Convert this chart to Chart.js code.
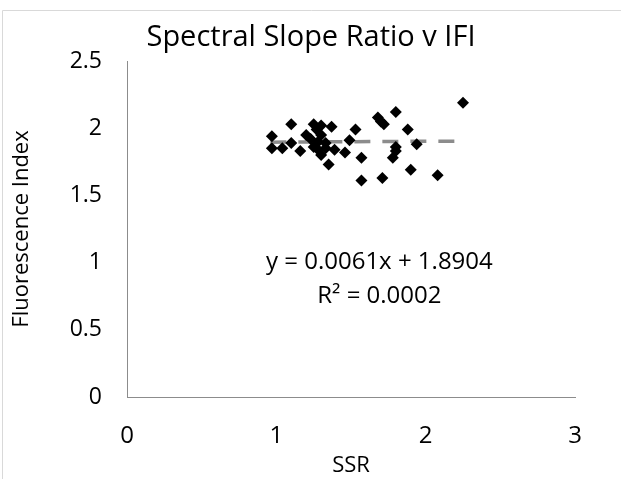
<!DOCTYPE html>
<html>
<head>
<meta charset="utf-8">
<script src="https://cdn.jsdelivr.net/npm/chart.js@4.4.1/dist/chart.umd.min.js"></script>
<style>
  html, body { margin: 0; padding: 0; background: #fff; }
  #wrap { width: 621px; height: 479px; position: relative; }
</style>
</head>
<body>
<div id="wrap"><canvas id="chart" width="621" height="479"></canvas></div>
<script>
// SSR (x) vs Fluorescence Index (y)
const ssr = [1.10, 0.97, 1.25, 1.30, 1.37, 1.27, 1.20, 1.30, 1.53, 1.49,
             1.10, 0.97, 1.04, 1.16, 1.25, 1.28, 1.30, 1.39, 1.46, 1.35,
             1.33, 1.28, 1.23, 1.33, 2.25, 1.80, 1.68, 1.70, 1.72, 1.88,
             1.94, 1.80, 1.80, 1.57, 1.78, 1.90, 2.08, 1.57, 1.71];
const fi  = [2.03, 1.94, 2.03, 2.02, 2.01, 1.99, 1.95, 1.95, 1.99, 1.91,
             1.89, 1.85, 1.85, 1.83, 1.86, 1.84, 1.80, 1.84, 1.82, 1.73,
             1.89, 1.90, 1.92, 1.85, 2.19, 2.12, 2.08, 2.05, 2.03, 1.99,
             1.88, 1.86, 1.83, 1.78, 1.78, 1.69, 1.65, 1.61, 1.63];

const trendSlope = 0.0061;
const trendIntercept = 1.8904;
const trendRange = [0.96, 2.25];
const equationLines = ['y = 0.0061x + 1.8904', 'R\u00b2 = 0.0002'];
const chartTitle = 'Spectral Slope Ratio v IFI';

const xTicks = [0, 1, 2, 3];
const yTicks = [0, 0.5, 1, 1.5, 2, 2.5];

const points = ssr.map((x, i) => ({ x: x, y: fi[i] }));
const trend = trendRange.map(x => ({ x: x, y: trendSlope * x + trendIntercept }));

const FONT = '"Open Sans", Lato, sans-serif';

// light frame + title (title centred on the whole picture, like the original)
const frame = {
  id: 'frame',
  beforeDraw(chart) {
    const c = chart.ctx;
    c.save();
    c.strokeStyle = '#d9d9d9';
    c.lineWidth = 1;
    c.beginPath();
    c.moveTo(2.5, chart.height);
    c.lineTo(2.5, 10.5);
    c.lineTo(chart.width, 10.5);
    c.stroke();
    c.fillStyle = '#000';
    c.font = '29px ' + FONT;
    c.textAlign = 'center';
    c.textBaseline = 'middle';
    c.fillText(chartTitle, 311, 38);
    c.restore();
  }
};

const equation = {
  id: 'equation',
  afterDatasetsDraw(chart) {
    const c = chart.ctx;
    const xs = chart.scales.x, ys = chart.scales.y;
    c.save();
    c.fillStyle = '#000';
    c.font = '24px ' + FONT;
    c.textAlign = 'center';
    c.textBaseline = 'middle';
    c.fillText(equationLines[0], xs.getPixelForValue(1.69), ys.getPixelForValue(1.0));
    c.fillText(equationLines[1], xs.getPixelForValue(1.69), ys.getPixelForValue(0.75));
    c.restore();
  }
};

new Chart(document.getElementById('chart'), {
  type: 'scatter',
  data: {
    datasets: [{
      label: 'IFI',
      data: points,
      pointStyle: 'rectRot',
      pointRadius: 6,
      backgroundColor: '#000',
      borderColor: '#000',
      borderWidth: 0,
      order: 1
    }, {
      type: 'line',
      label: 'Linear',
      data: trend,
      borderColor: '#8c8c8c',
      borderWidth: 3.5,
      borderDash: [16, 12],
      pointRadius: 0,
      fill: false,
      order: 2
    }]
  },
  options: {
    responsive: false,
    animation: false,
    layout: { padding: { top: 61, right: 46, bottom: 0, left: 0 } },
    plugins: {
      legend: { display: false },
      tooltip: { enabled: false },
      title: { display: false }
    },
    scales: {
      x: {
        type: 'linear',
        min: 0, max: 3,
        afterBuildTicks(s) { s.ticks = xTicks.map(v => ({ value: v })); },
        afterFit(s) { s.height = 82; },
        grid: { display: false, drawTicks: false },
        border: { display: true, color: '#8c8c8c', width: 1 },
        ticks: { color: '#000', padding: 25, font: { family: FONT, size: 24 }, callback: v => String(v) },
        title: { display: true, text: 'SSR', color: '#000', font: { family: FONT, size: 22 }, padding: { top: 0, bottom: 0 } }
      },
      y: {
        min: 0, max: 2.5,
        afterBuildTicks(s) { s.ticks = yTicks.map(v => ({ value: v })); },
        afterFit(s) { s.width = 127; },
        grid: { display: false, drawTicks: false },
        border: { display: true, color: '#8c8c8c', width: 1 },
        ticks: { color: '#000', padding: 25, font: { family: FONT, size: 23 }, callback: v => String(v) },
        title: { display: true, text: 'Fluorescence Index', color: '#000', font: { family: FONT, size: 22 }, padding: { top: 9, bottom: 0 } }
      }
    }
  },
  plugins: [frame, equation]
});
</script>
</body>
</html>
